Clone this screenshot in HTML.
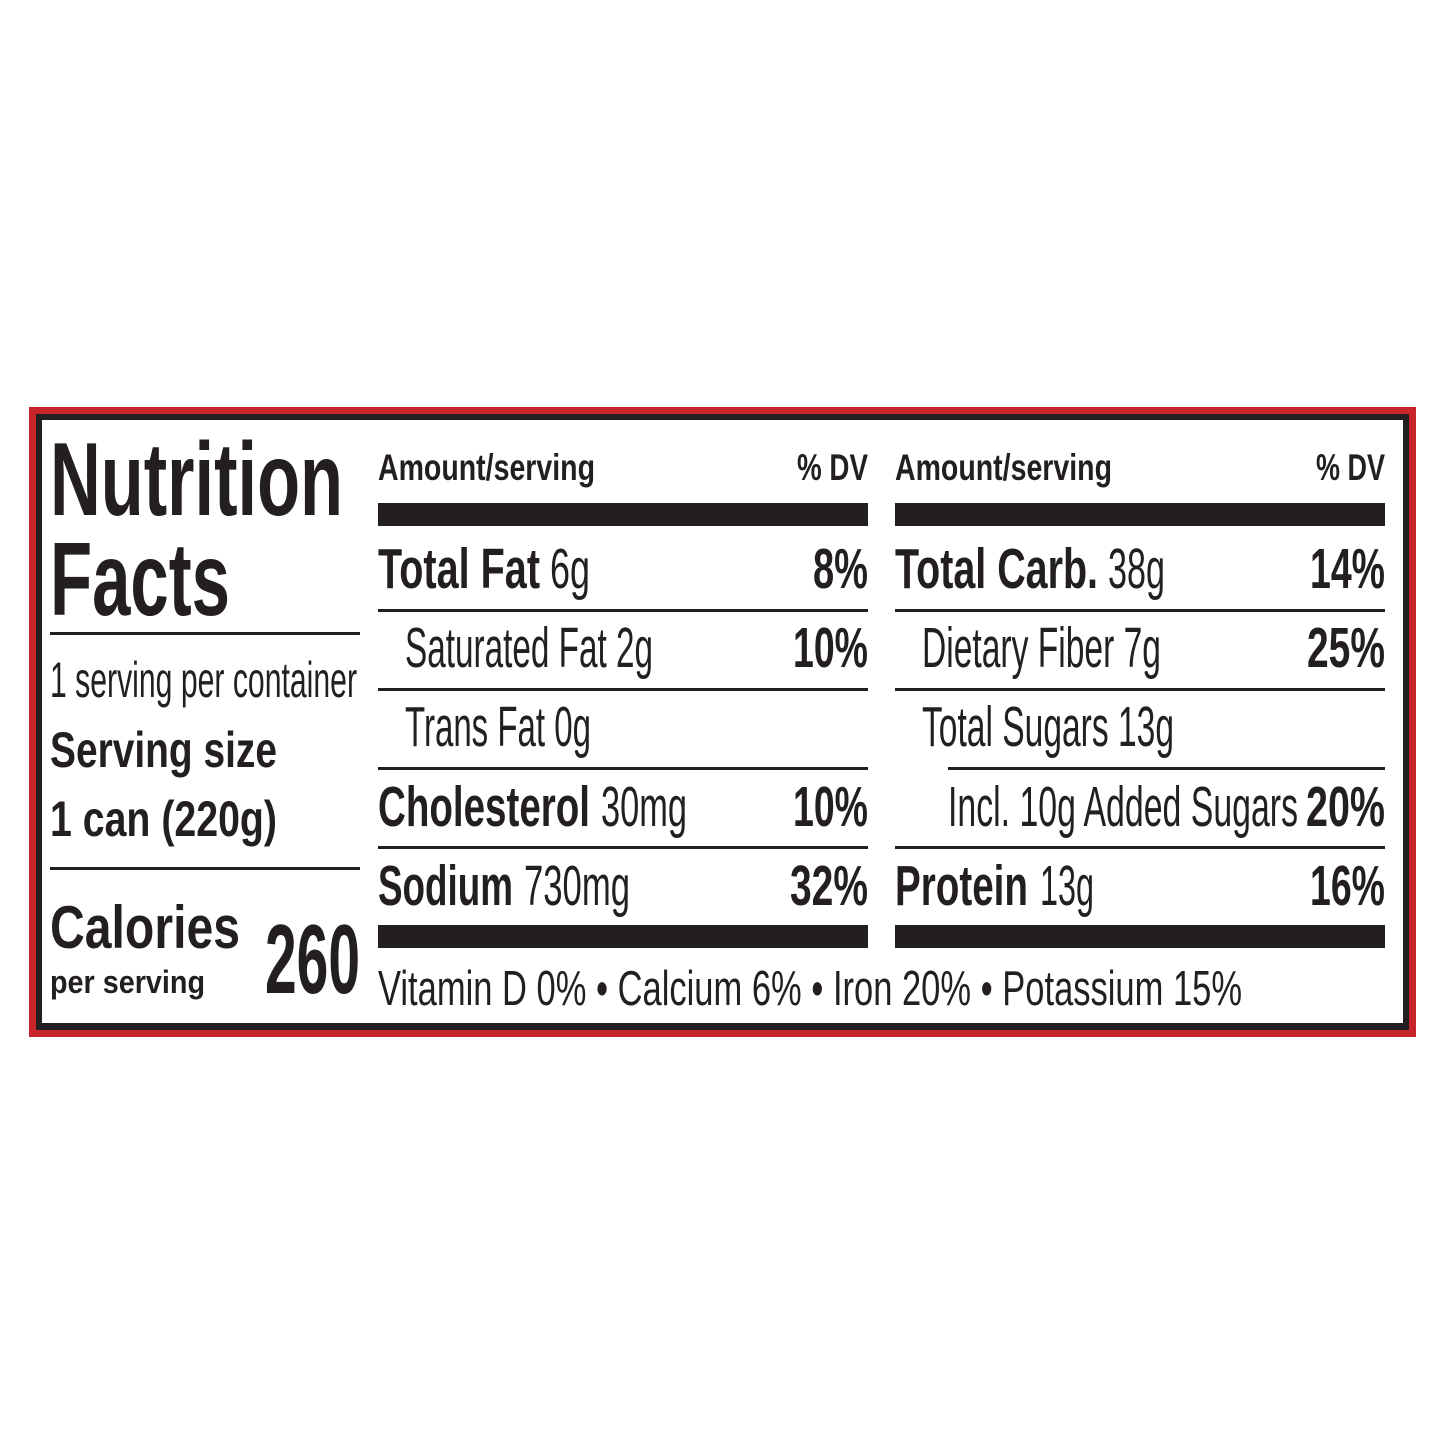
<!DOCTYPE html><html><head><style>body{margin:0;background:#fff}svg{display:block}text{font-family:"Liberation Sans",sans-serif;fill:#231f20}.b{font-weight:bold}</style></head><body>
<svg width="1445" height="1445" viewBox="0 0 1445 1445" xmlns="http://www.w3.org/2000/svg">
<rect x="0" y="0" width="1445" height="1445" fill="#fff"/>
<rect x="29" y="407" width="1387" height="630" fill="#c8242b"/>
<rect x="36" y="414" width="1373" height="616" fill="#231f20"/>
<rect x="42" y="420" width="1361" height="603" fill="#fff"/>
<g fill="#231f20">
<rect x="50" y="632" width="310" height="3"/>
<rect x="50" y="867" width="310" height="3"/>
<rect x="378" y="503" width="490" height="23"/>
<rect x="895" y="503" width="490" height="23"/>
<rect x="378" y="609" width="490" height="3"/>
<rect x="378" y="688" width="490" height="3"/>
<rect x="378" y="767" width="490" height="3"/>
<rect x="378" y="846" width="490" height="3"/>
<rect x="378" y="925" width="490" height="23"/>
<rect x="895" y="609" width="490" height="3"/>
<rect x="895" y="688" width="490" height="3"/>
<rect x="948" y="767" width="437" height="3"/>
<rect x="895" y="846" width="490" height="3"/>
<rect x="895" y="925" width="490" height="23"/>
</g>
<g lengthAdjust="spacingAndGlyphs">
<text class="b" x="50" y="515" font-size="104" textLength="293" lengthAdjust="spacingAndGlyphs">Nutrition</text>
<text class="b" x="50" y="615" font-size="104" textLength="180" lengthAdjust="spacingAndGlyphs">Facts</text>
<text x="50" y="697" font-size="50" textLength="307" lengthAdjust="spacingAndGlyphs">1 serving per container</text>
<text class="b" x="50" y="767" font-size="50" textLength="227" lengthAdjust="spacingAndGlyphs">Serving size</text>
<text class="b" x="50" y="836" font-size="50" textLength="227" lengthAdjust="spacingAndGlyphs">1 can (220g)</text>
<text class="b" x="50" y="948" font-size="60" textLength="190" lengthAdjust="spacingAndGlyphs">Calories</text>
<text class="b" x="50" y="993" font-size="32" textLength="155" lengthAdjust="spacingAndGlyphs">per serving</text>
<text class="b" x="265" y="993" font-size="98" textLength="95" lengthAdjust="spacingAndGlyphs">260</text>

<text class="b" x="378" y="480" font-size="37" textLength="217" lengthAdjust="spacingAndGlyphs">Amount/serving</text>
<text class="b" x="797" y="480" font-size="37" textLength="71" lengthAdjust="spacingAndGlyphs">% DV</text>
<text class="b" x="895" y="480" font-size="37" textLength="217" lengthAdjust="spacingAndGlyphs">Amount/serving</text>
<text class="b" x="1316" y="480" font-size="37" textLength="69" lengthAdjust="spacingAndGlyphs">% DV</text>

<text class="b" x="378" y="588" font-size="57" textLength="162" lengthAdjust="spacingAndGlyphs">Total Fat</text>
<text x="550" y="588" font-size="57" textLength="40" lengthAdjust="spacingAndGlyphs">6g</text>
<text class="b" x="813" y="588" font-size="57" textLength="55" lengthAdjust="spacingAndGlyphs">8%</text>
<text x="405" y="667" font-size="57" textLength="248" lengthAdjust="spacingAndGlyphs">Saturated Fat 2g</text>
<text class="b" x="793" y="667" font-size="57" textLength="75" lengthAdjust="spacingAndGlyphs">10%</text>
<text x="405" y="746" font-size="57" textLength="186" lengthAdjust="spacingAndGlyphs">Trans Fat 0g</text>
<text class="b" x="378" y="826" font-size="57" textLength="212" lengthAdjust="spacingAndGlyphs">Cholesterol</text>
<text x="601" y="826" font-size="57" textLength="86" lengthAdjust="spacingAndGlyphs">30mg</text>
<text class="b" x="793" y="826" font-size="57" textLength="75" lengthAdjust="spacingAndGlyphs">10%</text>
<text class="b" x="378" y="905" font-size="57" textLength="135" lengthAdjust="spacingAndGlyphs">Sodium</text>
<text x="524" y="905" font-size="57" textLength="106" lengthAdjust="spacingAndGlyphs">730mg</text>
<text class="b" x="790" y="905" font-size="57" textLength="78" lengthAdjust="spacingAndGlyphs">32%</text>

<text class="b" x="895" y="588" font-size="57" textLength="203" lengthAdjust="spacingAndGlyphs">Total Carb.</text>
<text x="1108" y="588" font-size="57" textLength="57" lengthAdjust="spacingAndGlyphs">38g</text>
<text class="b" x="1310" y="588" font-size="57" textLength="75" lengthAdjust="spacingAndGlyphs">14%</text>
<text x="922" y="667" font-size="57" textLength="239" lengthAdjust="spacingAndGlyphs">Dietary Fiber 7g</text>
<text class="b" x="1307" y="667" font-size="57" textLength="78" lengthAdjust="spacingAndGlyphs">25%</text>
<text x="922" y="746" font-size="57" textLength="252" lengthAdjust="spacingAndGlyphs">Total Sugars 13g</text>
<text x="948" y="826" font-size="57" textLength="350" lengthAdjust="spacingAndGlyphs">Incl. 10g Added Sugars</text>
<text class="b" x="1306" y="826" font-size="57" textLength="79" lengthAdjust="spacingAndGlyphs">20%</text>
<text class="b" x="895" y="905" font-size="57" textLength="133" lengthAdjust="spacingAndGlyphs">Protein</text>
<text x="1040" y="905" font-size="57" textLength="54" lengthAdjust="spacingAndGlyphs">13g</text>
<text class="b" x="1310" y="905" font-size="57" textLength="75" lengthAdjust="spacingAndGlyphs">16%</text>

<text x="378" y="1005" font-size="49" textLength="864" lengthAdjust="spacingAndGlyphs">Vitamin D 0% • Calcium 6% • Iron 20% • Potassium 15%</text>
</g>
</svg>
</body></html>
